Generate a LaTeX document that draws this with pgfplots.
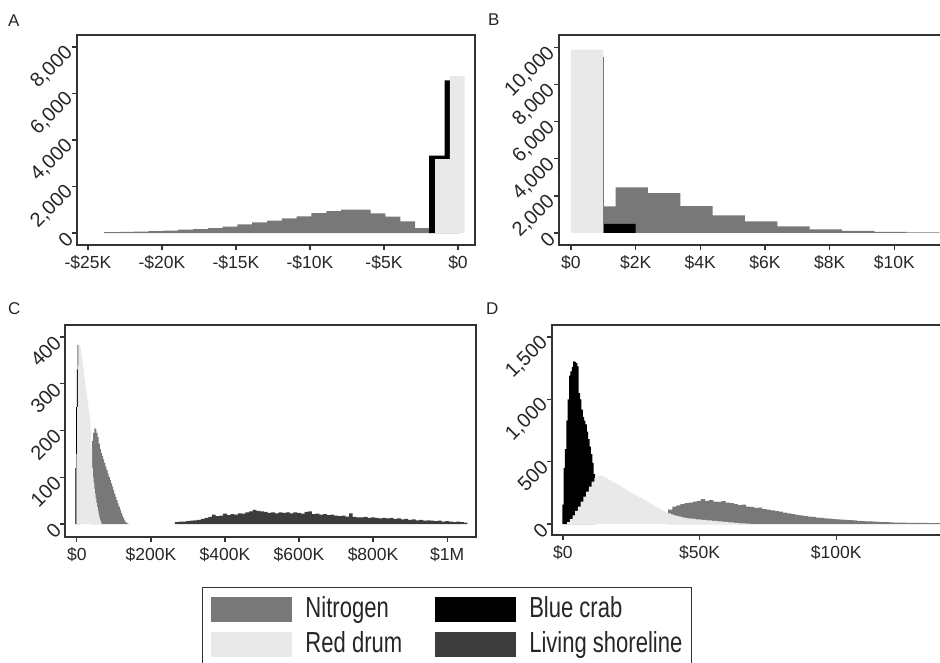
\documentclass[border=0pt]{standalone}
\usepackage{fontspec}
\setmainfont{Liberation Sans}
\newfontfamily\legendfont[FakeStretch=0.76]{Liberation Sans}
\usepackage{pgfplots}
\pgfplotsset{compat=1.18}

\definecolor{nitro}{HTML}{787878}
\definecolor{reddrum}{HTML}{E9E9E9}
\definecolor{bluecrab}{HTML}{000000}
\definecolor{living}{HTML}{3C3C3C}
\definecolor{frame}{HTML}{333333}

\pgfplotsset{
  panel/.style={
    scale only axis, anchor=south west,
    axis line style={line width=1.5pt, draw=frame},
    tick style={line width=1.2pt, draw=frame},
    tick align=outside, major tick length=5pt,
    xtick pos=left, ytick pos=left,
    minor tick num=0,
    scaled ticks=false,
    tick label style={font=\fontsize{17.5}{18}\selectfont, text=black!85},
    yticklabel style={rotate=45, anchor=east, font=\fontsize{20}{20}\selectfont},
    xticklabel style={yshift=-2pt},
  },
  hist/.style={const plot, fill=#1, draw=none, forget plot},
}

\begin{document}
\begin{tikzpicture}
\path[use as bounding box] (0,0) rectangle (940pt,662pt);

% ---------------- Panel A ----------------
\begin{axis}[panel, at={(77pt,417pt)}, width=398pt, height=210pt,
  xmin=-25.74, xmax=1.15, ymin=-516, ymax=8516,
  xtick={-25,-20,-15,-10,-5,0},
  xticklabels={-\$25K,-\$20K,-\$15K,-\$10K,-\$5K,\$0},
  ytick={0,2000,4000,6000,8000},
  yticklabels={0,{2,000},{4,000},{6,000},{8,000}}]
\addplot[hist=nitro] coordinates {(-23.9,40)(-22.9,50)(-21.9,60)(-20.9,80)(-19.9,105)(-18.9,143)(-17.9,171)(-16.9,214)(-15.9,271)(-14.9,371)(-13.9,457)(-12.9,530)(-11.9,630)(-10.9,714)(-9.9,857)(-8.9,943)(-7.9,1000)(-6.9,1000)(-5.9,843)(-4.9,700)(-3.9,500)(-2.9,214)(-1.9,0)} \closedcycle;
\addplot[hist=bluecrab] coordinates {(-1.95,3330)(-0.9,6560)(0.1,0)} \closedcycle;
\addplot[hist=reddrum] coordinates {(-1.55,3180)(-0.55,6750)(0.45,0)} \closedcycle;
\end{axis}

% ---------------- Panel B ----------------
\begin{axis}[panel, at={(559pt,417pt)}, width=400pt, height=210pt,
  xmin=-0.37, xmax=12.0, ymin=-648, ymax=10686,
  xtick={0,2,4,6,8,10},
  xticklabels={\$0,\$2K,\$4K,\$6K,\$8K,\$10K},
  ytick={0,2000,4000,6000,8000,10000},
  yticklabels={0,{2,000},{4,000},{6,000},{8,000},{10,000}}]
\addplot[hist=nitro] coordinates {(0.38,1430)(1.38,2460)(2.38,2150)(3.38,1450)(4.38,950)(5.38,630)(6.38,360)(7.38,200)(8.38,110)(9.38,55)(10.38,35)(11.38,20)(12.38,0)} \closedcycle;
\addplot[hist=bluecrab] coordinates {(1,490)(2,0)} \closedcycle;
\addplot[hist=reddrum] coordinates {(0,9900)(1,0)} \closedcycle;
\addplot[forget plot, draw=nitro, line width=0.8pt] coordinates {(1,0)(1,9500)};
\end{axis}

% ---------------- Panel C ----------------
\begin{axis}[panel, at={(65pt,125pt)}, width=411pt, height=212pt,
  xmin=-32, xmax=1078, ymin=-27.8, ymax=425.7,
  xtick={0,200,400,600,800,1000},
  xticklabels={\$0,\$200K,\$400K,\$600K,\$800K,\$1M},
  ytick={0,100,200,300,400},
  yticklabels={0,100,200,300,400},
  legend columns=2, legend cell align=left,
  legend image code/.code={\path[#1, draw=none] (0pt,-12.5pt) rectangle (81pt,12.5pt);},
  legend style={at={(0.3333,-0.2358)}, anchor=north west, draw=frame,
    line width=1pt, inner xsep=9pt, inner ysep=9pt,
    row sep=8pt, column sep=13pt,
    font=\legendfont\fontsize{29}{29}\selectfont,
    nodes={inner sep=0pt, text height=21pt, text depth=6pt, text=black!85},
    /tikz/every even column/.append style={column sep=33pt}}]
\addplot[hist=nitro] coordinates {(38,160)(41,178)(44,195)(47,205)(50,203)(53,195)(56,186)(59,172)(62,160)(65,152)(68,145)(71,138)(74,131)(77,123)(80,116)(83,108)(86,101)(89,94)(92,87)(95,80)(98,73)(101,65)(104,58)(107,51)(110,44)(113,37)(116,31)(119,24)(122,18)(125,13)(128,8)(131,4)(134,2)(137,1)(140,0)} \closedcycle;
\addplot[hist=bluecrab] coordinates {(-4,120)(-2,250)(0,330)(2,383)(4,300)(6,200)(10,0)} \closedcycle;
\addplot[hist=living] coordinates {(265,4)(275,5)(285,5)(295,6)(305,7)(315,8)(325,9)(335,11)(345,13)(355,15)(365,20)(375,17)(385,18)(395,22)(405,19)(415,21)(425,20)(435,23)(445,22)(455,25)(465,27)(475,30)(485,28)(495,27)(505,26)(515,24)(525,25)(535,23)(545,25)(555,24)(565,25)(575,23)(585,25)(595,24)(605,22)(615,26)(625,27)(635,21)(645,22)(655,20)(665,21)(675,19)(685,20)(695,18)(705,17)(715,18)(725,16)(735,23)(745,15)(755,14)(765,14)(775,15)(785,13)(795,14)(805,13)(815,12)(825,13)(835,12)(845,13)(855,11)(865,12)(875,10)(885,11)(895,9)(905,10)(915,8)(925,9)(935,7)(945,8)(955,7)(965,6)(975,7)(985,5)(995,6)(1005,5)(1015,4)(1025,5)(1035,4)(1045,3)(1055,0)} \closedcycle;
\addplot[hist=reddrum] coordinates {(-1,150)(1,250)(3,340)(5,383)(7,382)(9,378)(11,370)(13,358)(15,345)(17,333)(19,320)(21,307)(23,295)(25,283)(27,270)(29,258)(31,246)(33,234)(35,220)(37,200)(39,160)(41,120)(43,100)(45,88)(47,75)(49,65)(51,55)(53,45)(55,36)(57,28)(59,20)(61,13)(63,7)(65,3)(67,0)} \closedcycle;
\addlegendimage{fill=nitro}
\addlegendimage{fill=bluecrab}
\addlegendimage{fill=reddrum}
\addlegendimage{fill=living}
\legend{Nitrogen, Blue crab, Red drum, Living shoreline}
\end{axis}

% ---------------- Panel D ----------------
\begin{axis}[panel, at={(552pt,127pt)}, width=410pt, height=210pt,
  xmin=-4, xmax=146, ymin=-88, ymax=1596,
  xtick={0,50,100},
  xticklabels={\$0,\$50K,\$100K},
  ytick={0,500,1000,1500},
  yticklabels={0,500,{1,000},{1,500}}]
\addplot[hist=nitro] coordinates {(38.5,115)(40,140)(41.5,150)(43,160)(44.5,168)(46,172)(47.5,180)(49,185)(50.5,200)(52,185)(53.5,192)(55,180)(56.5,178)(58,184)(59.5,172)(61,168)(62.5,160)(64,152)(65.5,155)(67,140)(68.5,138)(70,130)(71.5,132)(73,120)(74.5,116)(76,110)(77.5,104)(79,100)(80.5,92)(82,85)(83.5,80)(85,74)(86.5,70)(88,64)(89.5,60)(91,57)(92.5,52)(94,50)(95.5,46)(97,43)(98.5,40)(100,37)(101.5,35)(103,33)(104.5,31)(106,29)(107.5,26)(109,24)(110.5,22)(112,21)(113.5,19)(115,17)(116.5,16)(118,15)(119.5,13)(121,12)(122.5,12)(124,11)(125.5,10)(127,10)(128.5,9)(130,9)(131.5,9)(133,8)(134.5,8)(136,8)(137.5,7)(139,7)(140.5,7)(142,6)(143.5,6)(145,6)(146.5,0)} \closedcycle;
\addplot[hist=bluecrab] coordinates {(-0.25,155)(0.25,450)(0.75,600)(1.25,830)(1.75,1000)(2.25,1190)(2.75,1225)(3.25,1260)(3.75,1305)(4.25,1300)(4.75,1290)(5.25,1265)(5.75,1050)(6.25,1000)(6.75,917)(7.25,860)(7.75,830)(8.25,800)(8.75,740)(9.25,680)(9.75,620)(10.25,560)(10.75,490)(11.25,400)(11.75,0)} \closedcycle;
\addplot[hist=reddrum] coordinates {(1.5,15)(2.5,40)(3.5,70)(4.5,105)(5.5,140)(6.5,180)(7.5,220)(8.5,260)(9.5,300)(10.5,340)(11.5,370)(12.5,385)(13.5,388)(14.5,380)(15.5,370)(16.5,355)(17.5,343)(18.5,330)(19.5,318)(20.5,305)(21.5,292)(22.5,280)(23.5,265)(24.5,252)(25.5,240)(26.5,228)(27.5,215)(28.5,205)(29.5,192)(30.5,180)(31.5,165)(32.5,152)(33.5,140)(34.5,128)(35.5,115)(36.5,104)(37.5,94)(38.5,85)(39.5,77)(40.5,70)(41.5,64)(42.5,59)(43.5,54)(44.5,50)(45.5,46)(46.5,43)(48.5,38)(50.5,33)(52.5,29)(54.5,25)(56.5,21)(58.5,17)(60.5,13)(62.5,9)(64.5,6)(66.5,3)(68.5,0)} \closedcycle;
\end{axis}

% panel letters
\node[anchor=base west, font=\fontsize{17}{17}\selectfont, text=black!85, inner sep=0pt] at (8pt,635pt) {A};
\node[anchor=base west, font=\fontsize{17}{17}\selectfont, text=black!85, inner sep=0pt] at (488pt,636pt) {B};
\node[anchor=base west, font=\fontsize{17}{17}\selectfont, text=black!85, inner sep=0pt] at (8pt,347pt) {C};
\node[anchor=base west, font=\fontsize{17}{17}\selectfont, text=black!85, inner sep=0pt] at (486pt,347pt) {D};
\end{tikzpicture}
\end{document}
